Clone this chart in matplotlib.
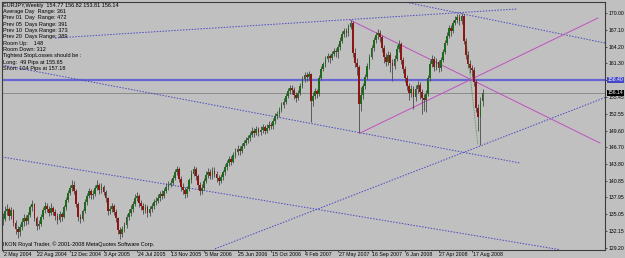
import matplotlib
matplotlib.use("Agg")
import matplotlib.pyplot as plt
import matplotlib.transforms as mtransforms
import numpy as np

plt.rcParams['font.family'] = ['Liberation Sans', 'DejaVu Sans']

# weekly EURJPY bars, week 0 = 2 May 2004
opens = [134.0, 134.2, 135.6, 135.9, 134.8, 135.7, 133.5, 132.4, 131.9, 132.8,
         133.6, 134.4, 133.8, 134.9, 136.2, 136.8, 134.3, 133.0, 133.4, 134.6,
         135.8, 136.5, 136.0, 135.2, 136.1, 135.4, 134.8, 134.1, 135.0, 134.6,
         136.2, 137.5, 138.8, 139.6, 140.2, 139.1, 136.8, 134.5, 134.2, 135.6,
         137.1, 138.2, 139.0, 138.3, 138.6, 139.6, 140.1, 139.2, 139.8, 138.9,
         137.8, 135.6, 135.9, 136.4, 135.5, 134.3, 132.2, 131.6, 132.4, 133.1,
         134.5, 135.3, 136.0, 136.8, 137.9, 138.2, 136.9, 136.4, 135.7, 136.2,
         135.2, 135.9, 136.4, 137.1, 137.4, 137.9, 138.6, 138.2, 139.1, 139.8,
         140.2, 140.5, 141.3, 142.4, 142.9, 141.2, 139.8, 139.2, 138.5, 139.4,
         140.9, 142.1, 142.9, 141.6, 140.2, 139.0, 139.6, 140.8, 141.9, 142.4,
         141.7, 142.6, 142.1, 141.3, 140.8, 141.5, 142.3, 143.2, 143.9, 144.6,
         144.2, 145.3, 145.9, 146.4, 146.0, 146.9, 147.4, 147.9, 148.3, 148.8,
         149.6, 149.2, 149.8, 149.3, 149.7, 150.2, 149.6, 150.1, 150.6, 150.3,
         151.2, 152.1, 152.4, 153.2, 154.0, 154.6, 155.6, 156.5, 157.0, 156.7,
         155.8, 155.2, 156.1, 157.4, 158.6, 159.2, 158.9, 159.4, 154.8, 155.6,
         156.4, 155.9, 158.8, 160.3, 161.1, 162.0, 162.6, 162.2, 162.9, 163.4,
         163.2, 164.1, 165.2, 166.4, 166.9, 166.5, 167.6, 168.3, 163.1, 161.4,
         160.6, 154.2, 155.7, 157.3, 158.9, 160.8, 162.4, 163.9, 165.3, 166.2,
         166.6, 165.8, 163.9, 162.4, 161.6, 162.8, 161.3, 160.9, 162.1, 163.8,
         164.6, 161.9, 160.3, 158.8, 157.4, 156.2, 156.8, 155.4, 156.9, 157.6,
         156.3, 155.2, 154.9, 156.0, 158.7, 161.2, 162.1, 160.7, 161.5, 160.4,
         161.9, 163.3, 164.8, 166.1, 167.4, 166.9, 168.3, 168.9, 169.4, 168.7,
         169.6, 165.2, 162.8, 161.2, 160.4, 160.2, 158.1, 153.6, 152.0, 154.77]
closes = [134.2, 135.6, 135.9, 134.8, 135.7, 133.5, 132.4, 131.9, 132.8, 133.6,
          134.4, 133.8, 134.9, 136.2, 136.8, 134.3, 133.0, 133.4, 134.6, 135.8,
          136.5, 136.0, 135.2, 136.1, 135.4, 134.8, 134.1, 135.0, 134.6, 136.2,
          137.5, 138.8, 139.6, 140.2, 139.1, 136.8, 134.5, 134.2, 135.6, 137.1,
          138.2, 139.0, 138.3, 138.6, 139.6, 140.1, 139.2, 139.8, 138.9, 137.8,
          135.6, 135.9, 136.4, 135.5, 134.3, 132.2, 131.6, 132.4, 133.1, 134.5,
          135.3, 136.0, 136.8, 137.9, 138.2, 136.9, 136.4, 135.7, 136.2, 135.2,
          135.9, 136.4, 137.1, 137.4, 137.9, 138.6, 138.2, 139.1, 139.8, 140.2,
          140.5, 141.3, 142.4, 142.9, 141.2, 139.8, 139.2, 138.5, 139.4, 140.9,
          142.1, 142.9, 141.6, 140.2, 139.0, 139.6, 140.8, 141.9, 142.4, 141.7,
          142.6, 142.1, 141.3, 140.8, 141.5, 142.3, 143.2, 143.9, 144.6, 144.2,
          145.3, 145.9, 146.4, 146.0, 146.9, 147.4, 147.9, 148.3, 148.8, 149.6,
          149.2, 149.8, 149.3, 149.7, 150.2, 149.6, 150.1, 150.6, 150.3, 151.2,
          152.1, 152.4, 153.2, 154.0, 154.6, 155.6, 156.5, 157.0, 156.7, 155.8,
          155.2, 156.1, 157.4, 158.6, 159.2, 158.9, 159.4, 154.8, 155.6, 156.4,
          155.9, 158.8, 160.3, 161.1, 162.0, 162.6, 162.2, 162.9, 163.4, 163.2,
          164.1, 165.2, 166.4, 166.9, 166.5, 167.6, 168.3, 163.1, 161.4, 160.6,
          154.2, 155.7, 157.3, 158.9, 160.8, 162.4, 163.9, 165.3, 166.2, 166.6,
          165.8, 163.9, 162.4, 161.6, 162.8, 161.3, 160.9, 162.1, 163.8, 164.6,
          161.9, 160.3, 158.8, 157.4, 156.2, 156.8, 155.4, 156.9, 157.6, 156.3,
          155.2, 154.9, 156.0, 158.7, 161.2, 162.1, 160.7, 161.5, 160.4, 161.9,
          163.3, 164.8, 166.1, 167.4, 166.9, 168.3, 168.9, 169.4, 168.7, 169.6,
          165.2, 162.8, 161.2, 160.4, 160.2, 158.1, 153.6, 152.0, 154.77, 156.14]
highs = [135.3, 136.4, 136.8, 136.3, 136.2, 136.0, 134.1, 133.0, 133.4, 134.3,
         135.0, 134.9, 135.4, 136.7, 137.5, 137.0, 134.8, 134.1, 135.0, 136.3,
         137.2, 137.0, 136.4, 136.9, 136.5, 135.9, 135.2, 135.6, 135.5, 136.7,
         138.1, 139.3, 140.2, 141.0, 140.8, 139.5, 137.2, 135.1, 136.0, 137.6,
         138.8, 139.6, 139.4, 139.3, 140.1, 140.9, 140.5, 140.4, 140.2, 139.3,
         138.0, 136.5, 137.0, 136.8, 135.9, 134.6, 132.8, 133.0, 133.7, 135.0,
         135.9, 136.6, 137.4, 138.5, 138.9, 138.6, 137.5, 136.9, 136.8, 136.6,
         136.5, 137.0, 137.6, 138.0, 138.5, 139.1, 139.2, 139.6, 140.4, 140.8,
         141.1, 141.9, 142.9, 143.5, 143.2, 141.6, 140.4, 139.7, 140.0, 141.4,
         142.7, 143.5, 143.2, 142.0, 140.6, 140.3, 141.3, 142.5, 143.1, 142.9,
         143.3, 143.2, 142.6, 141.9, 142.1, 142.8, 143.7, 144.5, 145.2, 145.1,
         145.8, 146.5, 147.0, 146.9, 147.5, 148.0, 148.5, 148.9, 149.4, 150.2,
         150.0, 150.4, 150.2, 150.3, 150.8, 150.6, 150.7, 151.2, 151.1, 151.8,
         152.6, 153.0, 153.7, 154.6, 155.2, 156.1, 157.0, 157.6, 157.5, 157.1,
         156.3, 156.6, 157.9, 159.1, 159.8, 159.7, 160.0, 159.6, 156.3, 157.0,
         156.9, 159.2, 160.8, 161.6, 162.5, 163.1, 163.0, 163.5, 164.0, 164.0,
         164.7, 165.8, 166.9, 167.5, 167.4, 168.2, 168.9, 168.7, 163.9, 162.2,
         161.0, 157.2, 157.9, 159.5, 161.3, 162.9, 164.4, 165.8, 166.8, 167.3,
         167.1, 166.2, 164.4, 163.1, 163.4, 163.2, 162.0, 162.8, 164.4, 165.4,
         165.0, 162.4, 160.9, 159.3, 157.9, 157.5, 157.3, 157.6, 158.3, 158.0,
         156.9, 156.0, 156.7, 159.3, 161.8, 162.8, 162.6, 162.2, 161.9, 162.4,
         163.8, 165.3, 166.7, 168.0, 167.9, 168.8, 169.5, 169.9, 169.8, 170.0,
         169.8, 165.7, 163.4, 161.9, 161.0, 160.6, 158.5, 154.2, 155.4, 156.82]
lows = [133.1, 133.8, 134.9, 134.0, 134.2, 132.9, 131.6, 130.9, 131.3, 132.2,
        133.0, 133.1, 133.3, 134.5, 135.6, 133.8, 132.2, 132.5, 133.0, 134.2,
        135.3, 135.4, 134.7, 134.9, 134.9, 134.0, 133.4, 133.7, 133.9, 134.3,
        135.8, 137.1, 138.3, 139.1, 138.5, 136.2, 133.9, 133.5, 133.8, 135.2,
        136.7, 137.8, 137.6, 137.7, 138.2, 139.2, 138.6, 138.8, 138.3, 137.1,
        134.9, 135.0, 135.4, 134.9, 133.7, 131.6, 130.8, 131.0, 131.9, 132.7,
        134.0, 134.8, 135.5, 136.4, 137.3, 136.3, 135.8, 135.0, 135.2, 134.6,
        134.8, 135.4, 136.0, 136.6, 136.9, 137.4, 137.6, 137.8, 138.7, 139.3,
        139.7, 140.1, 140.9, 141.8, 140.6, 139.1, 138.5, 137.9, 138.1, 139.0,
        140.5, 141.6, 141.0, 139.5, 138.4, 138.5, 139.2, 140.4, 141.4, 141.1,
        141.2, 141.5, 140.7, 140.2, 140.4, 141.0, 141.9, 142.8, 143.4, 143.6,
        143.9, 144.9, 145.4, 145.4, 145.6, 146.5, 147.0, 147.4, 147.8, 148.4,
        148.5, 148.8, 148.7, 148.8, 149.2, 149.0, 149.1, 149.7, 149.8, 149.9,
        150.8, 151.6, 152.0, 152.8, 153.6, 154.2, 155.2, 156.0, 156.0, 155.1,
        154.5, 154.9, 155.7, 157.0, 158.1, 158.3, 158.4, 151.0, 153.9, 155.0,
        155.2, 155.6, 158.4, 159.9, 160.7, 161.5, 161.3, 161.8, 162.5, 162.4,
        162.3, 163.7, 164.8, 165.9, 165.8, 166.0, 167.2, 162.4, 160.7, 159.3,
        149.2, 153.0, 155.0, 156.8, 158.5, 160.3, 162.0, 163.4, 164.8, 165.6,
        165.0, 163.2, 161.3, 160.8, 161.0, 159.8, 158.3, 160.3, 161.7, 163.2,
        161.2, 159.6, 158.1, 156.7, 154.9, 155.5, 153.4, 154.8, 156.2, 155.1,
        152.4, 153.0, 152.8, 155.6, 158.3, 160.7, 160.0, 160.1, 159.7, 160.0,
        161.5, 162.9, 164.4, 165.7, 166.1, 166.5, 167.9, 168.3, 167.9, 168.2,
        164.6, 162.1, 160.5, 159.6, 158.9, 157.3, 152.8, 149.6, 147.1, 153.81]

date_ticks = [0, 16, 32, 48, 64, 80, 96, 112, 128, 144, 160, 176, 192, 208, 224]
date_labels = ["2 May 2004", "22 Aug 2004", "12 Dec 2004", "3 Apr 2005", "24 Jul 2005",
               "13 Nov 2005", "5 Mar 2006", "25 Jun 2006", "15 Oct 2006", "4 Feb 2007",
               "27 May 2007", "16 Sep 2007", "6 Jan 2008", "27 Apr 2008", "17 Aug 2008"]
price_ticks = [170.00, 167.10, 164.20, 161.30, 158.40, 155.45, 152.55, 149.60,
               146.70, 143.80, 140.85, 137.95, 135.05, 132.15, 129.20]

info_lines = ["EURJPY,Weekly  154.77 156.82 153.81 156.14",
              "Average Day  Range: 361",
              "Prev 01  Day  Range: 472",
              "Prev 05  Days Range: 391",
              "Prev 10  Days Range: 373",
              "Prev 20  Days Range: 389",
              "Room Up:    148",
              "Room Down: 312",
              "Tightest StopLosses should be :",
              "Long:  49 Pips at 155.65",
              "Short: 104 Pips at 157.18"]

# drawn objects: (week, price) end points
blue_trendlines = [((24.8, 165.70), (245.5, 170.75)),
                   ((187.2, 172.32), (287.5, 164.83)),
                   ((-0.5, 161.00), (246.9, 143.94)),
                   ((-0.5, 144.99), (266.0, 128.85)),
                   ((101.2, 129.00), (287.5, 155.34))]
magenta_lines = [((165.7, 168.85), (285.1, 147.42)),
                 ((170.5, 149.16), (284.1, 169.18))]
green_line = ((221.1, 165.53), (226.8, 147.08))
hline_level = 158.40
bid = 156.14

bg = '#c0c0c0'
fig = plt.figure(figsize=(6.25, 2.58), dpi=100, facecolor=bg)
ax = fig.add_axes([2 / 625, 8 / 258, 603 / 625, 248 / 258])
ax.set_facecolor(bg)

x = np.arange(len(closes))
o = np.array(opens)
c = np.array(closes)
up = c >= o

# candles
ax.vlines(x, lows, highs, color='#4a4a4a', lw=0.6, zorder=3)
ax.bar(x[up], (c - o)[up], bottom=o[up], width=0.85, color='#1d6a1d', zorder=4)
ax.bar(x[~up], (c - o)[~up], bottom=o[~up], width=0.85, color='#8e1515', zorder=4)

# objects
ax.axhline(hline_level, color='#6666d4', lw=1.6, zorder=2)
ax.axhline(bid, color='#8c8c8c', lw=0.7, zorder=2)
for (x0, y0), (x1, y1) in blue_trendlines:
    ax.plot([x0, x1], [y0, y1], color='#4848c4', lw=0.7, dashes=(1.5, 1.5), zorder=2)
for (x0, y0), (x1, y1) in magenta_lines:
    ax.plot([x0, x1], [y0, y1], color='#c050c0', lw=0.7, zorder=2)
ax.plot([green_line[0][0], green_line[1][0]], [green_line[0][1], green_line[1][1]],
        color='#3a9a3a', lw=0.6, dashes=(1, 1), zorder=5)

ax.set_xlim(-0.48, 287.5)
ax.set_ylim(128.8, 171.97)

for s in ax.spines.values():
    s.set_color('#3c3c3c')
    s.set_linewidth(0.8)

ax.yaxis.tick_right()
ax.set_yticks(price_ticks)
ax.set_yticklabels([f"{p:.2f}" for p in price_ticks])
ax.tick_params(axis='y', length=1.5, width=0.6, pad=0.8, labelsize=3.7, colors='#3c3c3c',
               labelcolor='black')

# date scale: ticks plus left-aligned labels on one baseline
ax.set_xticks(date_ticks)
ax.set_xticklabels([])
ax.tick_params(axis='x', length=1.5, width=0.6, colors='#3c3c3c')
trx = mtransforms.blended_transform_factory(ax.transData, ax.transAxes)
for t, lab in zip(date_ticks, date_labels):
    ax.text(t + 0.4, -0.024, lab, transform=trx, fontsize=3.8, color='black',
            ha='left', va='baseline', clip_on=False)

# price boxes on the right scale
tr = mtransforms.blended_transform_factory(ax.transAxes, ax.transData)
ax.text(1.004, hline_level, f"{hline_level:.2f}", transform=tr, fontsize=3.7, color='white',
        va='center', ha='left', bbox=dict(boxstyle='square,pad=0.12', fc='#4646c8', ec='none'))
ax.text(1.004, bid, f"{bid:.2f}", transform=tr, fontsize=3.7, color='white',
        va='center', ha='left', bbox=dict(boxstyle='square,pad=0.12', fc='black', ec='none'))

for i, line in enumerate(info_lines):
    fig.text(3 / 625, 1 - (5 + 6.37 * i) / 258, line, fontsize=4.0, color='black', va='center')
fig.text(3 / 625, 1 - 244.5 / 258, "IKON Royal Trader, \u00a9 2001-2008 MetaQuotes Software Corp.",
         fontsize=4.0, color='black', va='center')

fig.savefig("out.png", dpi=100, facecolor=bg)
